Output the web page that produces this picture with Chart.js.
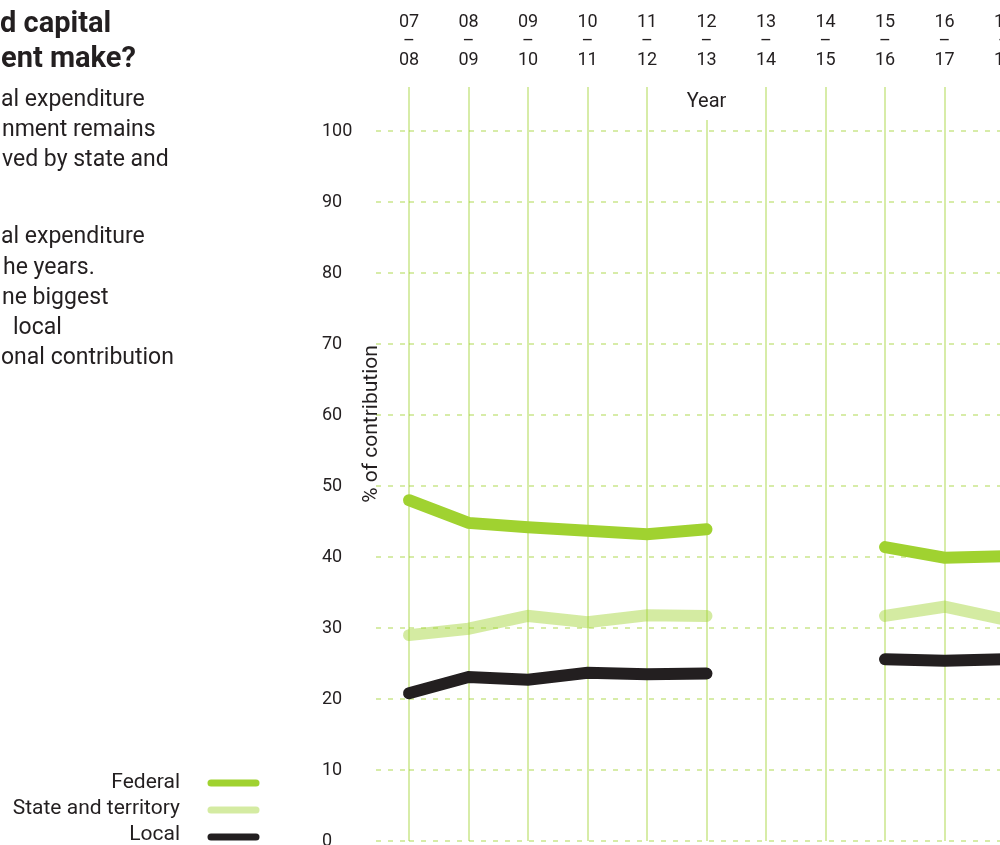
<!DOCTYPE html>
<html>
<head>
<meta charset="utf-8">
<title>Capital expenditure by level of government</title>
<script src="https://cdn.jsdelivr.net/npm/chart.js@4.4.1/dist/chart.umd.min.js"></script>
<style>
  html, body { margin: 0; padding: 0; background: #fff; }
  #wrap { position: relative; width: 1000px; height: 845px; overflow: hidden; }
  #grafico { position: absolute; left: 0; top: 0; }
  .txt { position: absolute; font-family: Roboto, "Liberation Sans", sans-serif; color: #231f20; white-space: nowrap; }
  .titulo { font-weight: 700; font-size: 29px; line-height: 34px; }
  .corpo { font-size: 23px; line-height: 30px; }
</style>
</head>
<body>
<div id="wrap">
  <canvas id="grafico" width="1100" height="870"></canvas>

  <div class="txt titulo" style="left:0; top:5px">d capital</div>
  <div class="txt titulo" style="left:1px; top:40px">ent make?</div>

  <div class="txt corpo" style="left:1px; top:84px">al expenditure</div>
  <div class="txt corpo" style="left:2px; top:114px">nment remains</div>
  <div class="txt corpo" style="left:2px; top:144px">ved by state and</div>

  <div class="txt corpo" style="left:1px; top:221px">al expenditure</div>
  <div class="txt corpo" style="left:3px; top:252px">he years.</div>
  <div class="txt corpo" style="left:2px; top:282px">ne biggest</div>
  <div class="txt corpo" style="left:13px; top:312px">local</div>
  <div class="txt corpo" style="left:1px; top:342px">onal contribution</div>
</div>

<script>
// financial years, shown as "07 – 08" stacked on the top axis
const yearStart = ['07', '08', '09', '10', '11', '12', '13', '14', '15', '16', '17']
const yearEnd = ['08', '09', '10', '11', '12', '13', '14', '15', '16', '17', '18']

// % of contribution per level of government (no data for 13-14 and 14-15)
const federal = [48.0, 44.8, 44.2, 43.7, 43.2, 43.9, null, null, 41.4, 39.9, 40.1]
const stateTerritory = [29.0, 29.9, 31.7, 30.8, 31.8, 31.7, null, null, 31.7, 33.0, 31.2]
const local = [20.8, 23.1, 22.7, 23.7, 23.5, 23.6, null, null, 25.6, 25.4, 25.6]

const seriesNames = ['Federal', 'State and territory', 'Local']

const yMin = 0
const yMax = 100
const yStep = 10

document.addEventListener('DOMContentLoaded', function () {

  const fonte = 'Roboto, "Liberation Sans", sans-serif'
  const texto = '#231f20'
  const verde = 'rgb(160, 210, 48)'
  const verdeClaro = 'rgba(160, 210, 48, 0.45)'
  const grade = 'rgba(160, 210, 48, 0.42)'

  Chart.defaults.font.family = fonte
  Chart.defaults.color = texto

  const rotulos = yearStart.map((a, i) => [a, '–', yearEnd[i]])

  // "Year" sits on the 12-13 gridline, over a white patch
  const anoPlugin = {
    id: 'ano',
    afterDraw(chart) {
      const ctx = chart.ctx
      const x = chart.scales.x.getPixelForValue(5)
      ctx.save()
      ctx.fillStyle = '#fff'
      ctx.fillRect(x - 26, 84, 52, 36)
      ctx.font = '20px ' + fonte
      ctx.fillStyle = texto
      ctx.textAlign = 'center'
      ctx.textBaseline = 'middle'
      ctx.fillText('Year', x, 102)
      ctx.restore()
    }
  }

  // vertical axis title
  const eixoYPlugin = {
    id: 'eixoY',
    afterDraw(chart) {
      const ctx = chart.ctx
      ctx.save()
      ctx.translate(372, 424)
      ctx.rotate(-Math.PI / 2)
      ctx.font = '21px ' + fonte
      ctx.fillStyle = texto
      ctx.textAlign = 'center'
      ctx.textBaseline = 'middle'
      ctx.fillText('% of contribution', 0, 0)
      ctx.restore()
    }
  }

  // legend in the bottom left corner
  const legendaPlugin = {
    id: 'legenda',
    afterDraw(chart) {
      const ctx = chart.ctx
      ctx.save()
      ctx.font = '21px ' + fonte
      ctx.textAlign = 'right'
      ctx.textBaseline = 'middle'
      chart.data.datasets.forEach(function (ds, i) {
        const y = 783 + i * 26
        ctx.fillStyle = texto
        ctx.fillText(ds.label, 180, y)
        ctx.strokeStyle = ds.borderColor
        ctx.lineWidth = 7
        ctx.lineCap = 'round'
        ctx.beginPath()
        ctx.moveTo(211, y + i)
        ctx.lineTo(256, y + i)
        ctx.stroke()
      })
      ctx.restore()
    }
  }

  function linha(nome, valores, cor) {
    return {
      label: nome,
      data: valores,
      borderColor: cor,
      backgroundColor: cor,
      borderWidth: 12,
      borderCapStyle: 'round',
      borderJoinStyle: 'miter',
      pointRadius: 0,
      pointHoverRadius: 0,
      tension: 0,
      spanGaps: false,
      fill: false,
      clip: 12
    }
  }

  const grafico = document.getElementById('grafico')
  new Chart(grafico, {
    type: 'line',
    data: {
      labels: rotulos,
      datasets: [
        linha(seriesNames[0], federal, verde),
        linha(seriesNames[1], stateTerritory, verdeClaro),
        linha(seriesNames[2], local, '#231f20')
      ]
    },
    options: {
      responsive: false,
      animation: false,
      events: [],
      layout: { padding: { left: 322, right: 96, top: 10, bottom: 29 } },
      plugins: {
        legend: { display: false },
        tooltip: { enabled: false }
      },
      scales: {
        x: {
          position: 'top',
          offset: false,
          afterFit(scale) { scale.height = 121 },
          border: { display: false },
          grid: {
            color: grade,
            lineWidth: 2,
            tickLength: 44,
            tickColor: grade,
            tickWidth: 2
          },
          ticks: {
            autoSkip: false,
            maxRotation: 0,
            padding: 17,
            font: { size: 18, lineHeight: 1.05 },
            color: texto
          }
        },
        y: {
          min: yMin,
          max: yMax,
          afterFit(scale) { scale.width = 87 },
          border: { display: false, dash: [5, 7] },
          grid: {
            color: grade,
            lineWidth: 2,
            tickLength: 33,
            tickColor: grade,
            tickWidth: 2,
            tickBorderDash: [5, 7]
          },
          ticks: {
            stepSize: yStep,
            crossAlign: 'far',
            padding: 0,
            font: { size: 18 },
            color: texto
          }
        }
      }
    },
    plugins: [anoPlugin, eixoYPlugin, legendaPlugin]
  })
})
</script>
</body>
</html>
